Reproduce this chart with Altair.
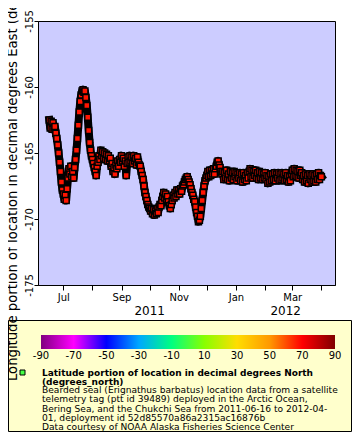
import altair as alt
import pandas as pd

FONT = "DejaVu Sans"

# ---- data ----
START_DATE = "2011-06-16"
lon_values = [
    -162.5, -163.1, -162.6, -163.2, -162.7, -163.1, -163.0, -163.5, -163.9, -164.4,
    -165.0, -165.7, -166.4, -167.2, -167.8, -168.1, -168.5, -168.2, -168.6, -167.7,
    -166.9, -166.2, -166.6, -166.0, -166.8, -166.4, -166.9, -166.1, -165.5, -164.8,
    -163.9, -162.9, -161.9, -161.1, -160.6, -160.3, -160.2, -160.4, -160.3, -160.8,
    -161.4, -162.3, -163.3, -164.2, -164.8, -165.2, -165.5, -165.8, -166.1, -166.4,
    -166.7, -166.0, -165.7, -165.2, -165.5, -164.8, -165.2, -164.9, -165.4, -165.0,
    -165.5, -165.1, -165.6, -165.2, -165.6, -165.4, -166.0, -165.8, -166.4, -166.1,
    -166.6, -165.9, -166.2, -165.6, -166.0, -165.5, -165.7, -165.2, -165.6, -165.4,
    -166.0, -165.6, -166.7, -165.8, -165.3, -165.7, -165.2, -165.6, -165.3, -165.8,
    -165.2, -165.6, -165.4, -165.9, -165.3, -165.7, -165.9, -166.0, -166.4, -166.7,
    -167.0, -167.5, -168.0, -168.3, -168.6, -168.9, -169.1, -169.2, -169.4, -169.2,
    -169.6, -169.3, -169.7, -169.4, -169.6, -169.2, -169.5, -169.1, -168.9, -169.0,
    -168.6, -168.3, -168.0, -168.4, -168.1, -168.5, -168.3, -168.7, -169.0, -169.2,
    -168.9, -168.6, -168.2, -168.4, -168.0, -168.3, -167.8, -168.1, -167.8, -168.1,
    -167.7, -167.9, -167.5, -167.4, -167.2, -167.0, -166.9, -166.8, -167.0, -167.2,
    -167.4, -167.7, -168.0, -168.2, -168.5, -168.7, -169.1, -169.5, -169.8, -170.2,
    -170.1, -169.8, -169.2, -168.6, -168.0, -167.5, -167.1, -166.9, -166.7, -166.4,
    -166.8, -166.3, -166.7, -166.3, -166.6, -166.2, -166.6, -166.2, -166.0, -165.7,
    -165.6, -165.9, -166.1, -166.4, -166.6, -166.4, -167.0, -166.5, -166.9, -166.3,
    -167.0, -166.6, -167.1, -166.4, -166.9, -166.5, -167.0, -166.4, -166.8, -166.5,
    -167.1, -166.6, -166.9, -166.5, -167.1, -166.6, -167.2, -166.5, -167.0, -166.7,
    -167.1, -166.5, -166.9, -166.4, -166.2, -166.8, -166.3, -166.9, -166.4, -166.7,
    -166.3, -166.9, -166.5, -167.0, -166.4, -166.9, -166.5, -167.0, -166.6, -166.9,
    -166.5, -167.0, -166.7, -167.3, -166.8, -167.2, -166.6, -167.1, -166.6, -167.0,
    -166.5, -167.1, -166.6, -166.9, -166.5, -167.1, -166.6, -167.0, -166.5, -166.9,
    -166.6, -167.1, -166.5, -167.0, -166.7, -167.2, -166.8, -167.1, -166.6, -166.3,
    -166.8, -166.2, -166.7, -166.3, -166.8, -166.4, -166.9, -166.3, -166.7, -166.5,
    -167.0, -166.7, -167.2, -166.6, -167.1, -166.7, -167.3, -166.6, -167.0, -166.7,
    -167.2, -166.6, -167.1, -166.7, -167.2, -166.6, -167.0, -166.5, -167.0, -166.7,
    -166.8,
]

month_tick_dates = [
    "2011-07-01", "2011-08-01", "2011-09-01", "2011-10-01", "2011-11-01",
    "2011-12-01", "2012-01-01", "2012-02-01", "2012-03-01", "2012-04-01",
]
year_labels = ["2011", "2012"]
year_label_dates = ["2011-10-01", "2012-02-23"]
y_ticks = [-175, -170, -165, -160, -155]

cbar_stops = [-90, -70, -50, -30, -10, 10, 30, 50, 70, 90]
cbar_colors = ["#800080", "#ff00ff", "#0000ff", "#00a8ff", "#00ff80",
               "#88ff00", "#ffdd00", "#ff9900", "#ff0000", "#800000"]

y_title = "Longitude portion of location in decimal degrees East (degrees_east)"
legend_bold = [
    "Latitude portion of location in decimal degrees North",
    "(degrees_north)",
]
legend_lines = [
    "Bearded seal (Erignathus barbatus) location data from a satellite",
    "telemetry tag (ptt id 39489) deployed in the Arctic Ocean,",
    "Bering Sea, and the Chukchi Sea from 2011-06-16 to 2012-04-",
    "01, deployment id 52d85570a86a2315ac16876b",
    "Data courtesy of NOAA Alaska Fisheries Science Center",
]

# ---- build tables ----
dates = pd.date_range(START_DATE, periods=len(lon_values), freq="D").strftime("%Y-%m-%d").tolist()
track_df = pd.DataFrame({"time": dates, "lon": lon_values})
cbar_df = pd.DataFrame({"v": cbar_stops, "label": [str(v) for v in cbar_stops]})
one = pd.DataFrame({"k": [0]})


def utc_dt(s):
    y, m, d = (int(p) for p in s.split("-"))
    return alt.DateTime(year=y, month=m, date=d, utc=True)


x_domain = [alt.DateTime(year=2011, month=6, date=4, utc=True),
            alt.DateTime(year=2012, month=4, date=15, hours=12, utc=True)]
cbar_domain = [-91.84, 90]

box = alt.Chart(one).mark_rect(fill="#ffffcc", stroke="black", strokeWidth=1).encode(
    x=alt.value(-29.5), x2=alt.value(313.5), y=alt.value(299.5), y2=alt.value(410.5)
)

x_enc = alt.X("time:T", scale=alt.Scale(type="utc", domain=x_domain),
              axis=alt.Axis(values=[utc_dt(s) for s in month_tick_dates],
                            labelExpr="utcmonth(datum.value) % 2 == 0 ? utcFormat(datum.value, '%b') : ''",
                            title=None, grid=False, tickSize=5, tickColor="black",
                            domainColor="black", labelColor="black", labelFont=FONT,
                            labelFontSize=10, labelPadding=2, labelFlush=False,
                            labelOverlap=False, orient="bottom"))
y_enc = alt.Y("lon:Q", scale=alt.Scale(domain=[-175, -155], nice=False, zero=False),
              axis=alt.Axis(values=y_ticks, labelExpr="datum.value + ''",
                            labelAngle=270, labelAlign="center", labelBaseline="alphabetic",
                            labelPadding=1.5, tickSize=4, tickColor="black",
                            domainColor="black", labelColor="black", labelFont=FONT,
                            labelFontSize=10, grid=False, labelFlush=False, labelOverlap=False,
                            title=y_title, titleAngle=270, titleX=-21.5, titleY=132,
                            titleAlign="center", titleBaseline="alphabetic",
                            titleFont=FONT, titleFontSize=13.2, titleFontWeight="normal",
                            titleColor="black", zindex=1))

track_band = alt.Chart(track_df).mark_line(
    color="black", strokeWidth=8, strokeJoin="round", strokeCap="square"
).encode(x=x_enc, y=y_enc)

track = alt.Chart(track_df).mark_square(
    size=36, filled=True, fill="#ff1400", stroke="black", strokeWidth=1.5, opacity=1
).encode(x=x_enc, y=y_enc)

track_layer = alt.layer(track_band, track)

years = alt.Chart(pd.DataFrame({"d": year_label_dates, "t": year_labels})).mark_text(
    font=FONT, fontSize=12, align="center", baseline="alphabetic", color="black"
).encode(
    x=alt.X("d:T", scale=alt.Scale(type="utc", domain=x_domain), axis=None),
    y=alt.value(294),
    text="t:N",
)

gradient = alt.LinearGradient(
    gradient="linear",
    stops=[alt.GradientStop(color=c, offset=(v - cbar_stops[0]) / (cbar_stops[-1] - cbar_stops[0]))
           for v, c in zip(cbar_stops, cbar_colors)],
    x1=0, x2=1, y1=0, y2=0,
)
cbar = alt.Chart(pd.DataFrame({"lo": [cbar_stops[0]], "hi": [cbar_stops[-1]]})).mark_rect(
    fill=gradient
).encode(
    x=alt.X("lo:Q", scale=alt.Scale(domain=cbar_domain, nice=False, zero=False), axis=None),
    x2="hi:Q",
    y=alt.value(314), y2=alt.value(328),
)

cbar_labels = alt.Chart(cbar_df).mark_text(
    font=FONT, fontSize=10, align="center", baseline="alphabetic", color="black"
).encode(
    x=alt.X("v:Q", scale=alt.Scale(domain=cbar_domain, nice=False, zero=False), axis=None),
    y=alt.value(337.5),
    text="label:N",
)

marker = alt.Chart(one).mark_square(
    size=25, filled=True, fill="#44ff44", stroke="black", strokeWidth=1, opacity=1
).encode(x=alt.value(-15.5), y=alt.value(351.5))

bold_text = alt.Chart(one).mark_text(
    font=FONT, fontSize=9, fontWeight="bold", align="left", baseline="alphabetic",
    lineHeight=9, color="black"
).encode(x=alt.value(4), y=alt.value(354.5), text=alt.value(legend_bold))

body_text = alt.Chart(one).mark_text(
    font=FONT, fontSize=9.1, align="left", baseline="alphabetic", lineHeight=9.2, color="black"
).encode(x=alt.value(4), y=alt.value(372.3), text=alt.value(legend_lines))

chart = alt.layer(box, track_layer, years, cbar, cbar_labels, marker, bold_text, body_text).resolve_scale(
    x="independent"
).resolve_axis(x="independent").properties(
    width=297, height=264,
    autosize=alt.AutoSizeParams(type="none"),
    padding={"left": 30, "top": 13, "right": 17, "bottom": 147},
    background="white",
).configure_view(fill="#ccccff", stroke="black", strokeWidth=1)

chart.save("out.html", embed_options={"renderer": "svg", "actions": False})
